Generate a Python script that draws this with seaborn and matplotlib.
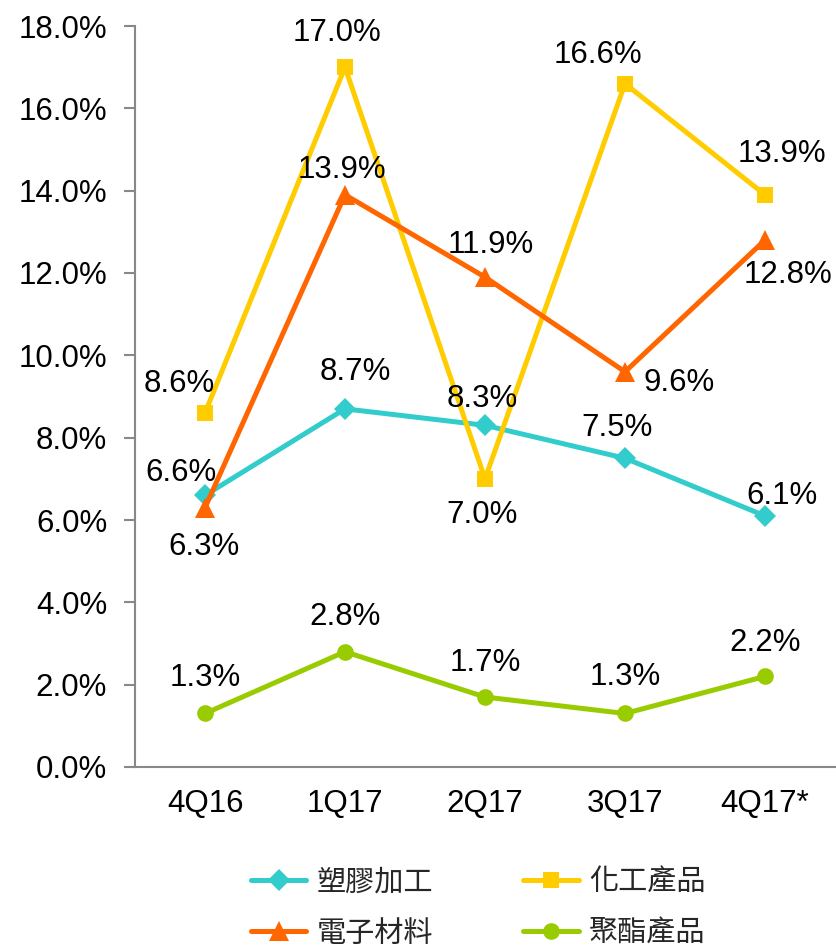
import matplotlib
matplotlib.use("Agg")
import matplotlib.pyplot as plt
import seaborn as sns
import numpy as np
import pandas as pd
from matplotlib.lines import Line2D

quarters = ["4Q16", "1Q17", "2Q17", "3Q17", "4Q17*"]
series_names = ["塑膠加工", "化工產品", "電子材料", "聚酯產品"]
plastics = [6.6, 8.7, 8.3, 7.5, 6.1]
chemicals = [8.6, 17.0, 7.0, 16.6, 13.9]
electronics = [6.3, 13.9, 11.9, 9.6, 12.8]
polyester = [1.3, 2.8, 1.7, 1.3, 2.2]
y_ticks = [0, 2, 4, 6, 8, 10, 12, 14, 16, 18]

colors = ["#33CCCC", "#FFCC00", "#FF6600", "#99CC00"]
markers = ["D", "s", "^", "o"]
msizes = [11, 12, 14, 12]

# label offsets in pixels (dx, dy), dy positive = up
offsets = [
    [(-24, 22), (10, 37), (-3, 26), (-8, 30), (17, 20)],
    [(-26, 29), (-8, 34), (-3, -36), (-27, 29), (17, 41)],
    [(-1, -39), (-3, 25), (6, 32), (54, -11), (23, -35)],
    [(0, 35), (0, 35), (0, 34), (0, 36), (0, 33)],
]

sns.set_theme(style="white")
plt.rcParams["font.family"] = ["Liberation Sans", "DejaVu Sans"]

fig = plt.figure(figsize=(8.36, 9.51), dpi=100)
ax = fig.add_axes([135 / 836, 1 - 767 / 951, 700 / 836, 741 / 951])

data = [plastics, chemicals, electronics, polyester]
x_idx = np.arange(len(quarters))
handles = []
for i, (name, vals) in enumerate(zip(series_names, data)):
    df = pd.DataFrame({"x": x_idx, "y": vals})
    sns.lineplot(data=df, x="x", y="y", ax=ax, color=colors[i], lw=3.6,
                 marker=markers[i], markersize=msizes[i], markeredgewidth=0,
                 zorder=3 + i, legend=False)
    handles.append(Line2D([0], [0], color=colors[i], lw=3.6, marker=markers[i],
                          markersize=msizes[i], markeredgewidth=0))
    for j, v in enumerate(vals):
        dx, dy = offsets[i][j]
        ax.annotate(f"{v:.1f}%", (x_idx[j], v), xytext=(dx, dy),
                    textcoords="offset pixels", ha="center", va="center",
                    fontsize=22.5, color="black", zorder=10)

ax.set_xlim(-0.5, 4.5)
ax.set_ylim(0, 18)
ax.set_xlabel("")
ax.set_ylabel("")
ax.set_yticks(y_ticks)
ax.set_yticklabels([f"{t:.1f}%" for t in y_ticks], fontsize=22.5, color="black")
ax.set_xticks(x_idx)
ax.set_xticklabels(quarters, fontsize=22.5, color="black")
ax.set_xticks(np.arange(-0.5, 5.0, 1.0), minor=True)
ax.tick_params(axis="x", which="major", length=0, pad=16)
ax.tick_params(axis="x", which="minor", length=8, width=1.5, color="#888888", direction="out")
ax.tick_params(axis="y", which="major", length=8, width=1.5, color="#888888", direction="out", pad=12, left=True)
for s in ["top", "right"]:
    ax.spines[s].set_visible(False)
for s in ["left", "bottom"]:
    ax.spines[s].set_color("#888888")
    ax.spines[s].set_linewidth(1.5)

order = [0, 2, 1, 3]
fig.legend([handles[k] for k in order], [series_names[k] for k in order],
           loc="center", bbox_to_anchor=(0.572, 0.045), ncol=2, frameon=False,
           prop={"family": ["Noto Sans CJK TC", "DejaVu Sans"], "size": 21},
           handlelength=1.9, handletextpad=0.35, columnspacing=3.1,
           labelspacing=0.72, borderpad=0.1)

fig.savefig("out.png", dpi=100)
